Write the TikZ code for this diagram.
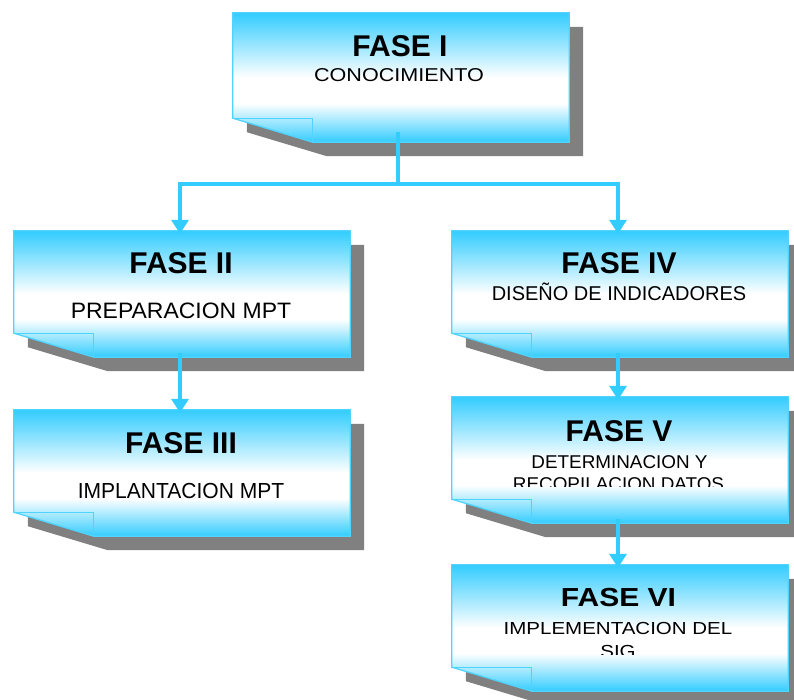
\documentclass[tikz,border=0pt]{standalone}
\usepackage{fontspec}
\setmainfont{Liberation Sans}
\usepackage{graphicx}
\usetikzlibrary{calc,arrows.meta}

\definecolor{faseblue}{RGB}{51,204,255}
\definecolor{faseedge}{RGB}{80,212,255}
\definecolor{shadowgray}{RGB}{128,128,128}

% cyan -> white -> cyan, the path spans 25bp..75bp
\pgfdeclareverticalshading{fasefill}{100bp}{color(0bp)=(faseblue); color(25bp)=(faseblue); color(40bp)=(white); color(50bp)=(white); color(75bp)=(faseblue); color(100bp)=(faseblue)}

% panel with drop shadow and a folded lower-left corner
\newcommand\fasepanel[1]{%
  \fill[shadowgray] ($(#1.north west)+(14,14)$) -- ($(#1.north east)+(14,14)$)
    -- ($(#1.south east)+(14,14)$) -- ($(#1.south west)+(94,14)$)
    -- ($(#1.south west)+(14,-10)$) -- cycle;
  \shadedraw[shading=fasefill, draw=faseedge, line width=1.3pt]
    (#1.north west) -- (#1.north east) -- (#1.south east)
    -- ($(#1.south west)+(80,0)$) -- ($(#1.south west)+(0,-24)$) -- cycle;
  \draw[faseedge, line width=1.3pt] ($(#1.south west)+(0,-24)$) -| ($(#1.south west)+(80,0)$);
}

\tikzset{
  panel/.style={rectangle, inner sep=0pt, minimum width=336pt, minimum height=126pt},
  title/.style={anchor=base, inner sep=0pt, font=\bfseries\fontsize{30}{36}\selectfont},
  body/.style={anchor=base, inner sep=0pt},
  link/.style={draw=faseblue, line width=4pt},
  arrowlink/.style={link, -{Triangle[width=17pt,length=14pt]}},
}

\begin{document}
\begin{tikzpicture}[x=1pt, y=-1pt]
\useasboundingbox (0,0) rectangle (794,700);
\fill[white] (0,0) rectangle (794,700);

% FASE I
\node[panel, minimum height=129pt] (f1) at (401,77.5) {};
\fasepanel{f1}
\node[title] (f1t) at (400,57) {FASE I};
\node[body, font=\fontsize{18.6}{22}\selectfont] (f1b) at (399,81.7) {\scalebox{1.16}[1]{CONOCIMIENTO}};

% FASE II
\node[panel] (f2) at (182,294) {};
\fasepanel{f2}
\node[title] (f2t) at (181,274) {FASE II};
\node[body, font=\fontsize{22.3}{26}\selectfont] (f2b) at (181,318.3) {\scalebox{1.03}[1]{PREPARACION MPT}};

% FASE III
\node[panel] (f3) at (182,473) {};
\fasepanel{f3}
\node[title] (f3t) at (181,453.3) {FASE III};
\node[body, font=\fontsize{21.8}{26}\selectfont] (f3b) at (181,498.3) {\scalebox{0.965}[1]{IMPLANTACION MPT}};

% FASE IV
\node[panel] (f4) at (620,294) {};
\fasepanel{f4}
\node[title] (f4t) at (619,273.3) {FASE IV};
\node[body, font=\fontsize{20}{24}\selectfont] (f4b) at (619,300.7) {DISEÑO DE INDICADORES};

% FASE V
\node[panel] (f5) at (620,460) {};
\fasepanel{f5}
\node[title] (f5t) at (619,441) {FASE V};
\begin{scope}
  \clip (f5.north west) rectangle ($(f5.north east)+(0,90)$);
  \node[body, font=\fontsize{18.5}{22}\selectfont] (f5b) at (619.5,468) {\scalebox{1.02}[1]{DETERMINACION Y}};
  \node[body, font=\fontsize{18.5}{22}\selectfont] (f5c) at (618.5,490) {\scalebox{1.02}[1]{RECOPILACION DATOS}};
\end{scope}

% FASE VI
\node[panel] (f6) at (620,628) {};
\fasepanel{f6}
\node[title] (f6t) at (618.5,606.7) {\scalebox{1}[0.87]{FASE VI}};
\begin{scope}
  \clip (f6.north west) rectangle ($(f6.north east)+(0,90)$);
  \node[body, font=\fontsize{20.5}{24}\selectfont] (f6b) at (618,634) {\scalebox{1}[0.85]{IMPLEMENTACION DEL}};
  \node[body, font=\fontsize{20.5}{24}\selectfont] (f6c) at (618,657) {\scalebox{1}[0.85]{SIG}};
\end{scope}

% connectors
\coordinate (junc) at ($(f1.south)+(-3,42)$);
\draw[link] ($(f1.south)+(-3,-10)$) -- (junc);
\draw[arrowlink] (junc) -| ($(f2.north)+(-2,3)$);
\draw[arrowlink] (junc) -| ($(f4.north)+(-2,3)$);
\draw[arrowlink] ($(f2.south)+(-2,-4)$) -- ($(f3.north)+(-2,3)$);
\draw[arrowlink] ($(f4.south)+(-2,-4)$) -- ($(f5.north)+(-2,3)$);
\draw[arrowlink] ($(f5.south)+(-2,-4)$) -- ($(f6.north)+(-2,3)$);
\end{tikzpicture}
\end{document}
